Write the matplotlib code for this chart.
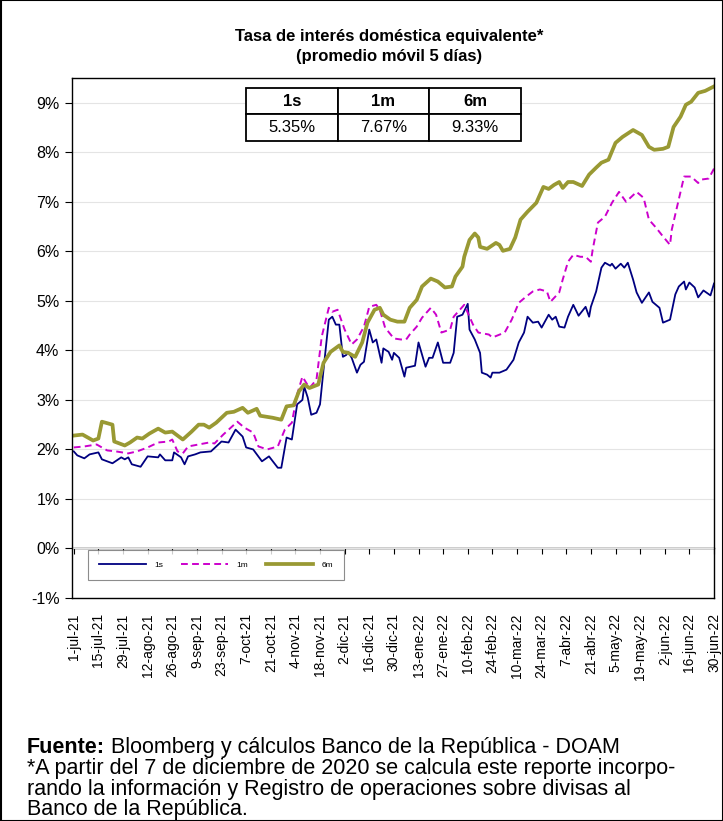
import matplotlib
matplotlib.use("Agg")
import matplotlib.pyplot as plt
import matplotlib.dates as mdates
import pandas as pd
from matplotlib.patches import Rectangle

plt.rcParams['font.family'] = ['Liberation Sans', 'DejaVu Sans']

# ---------------- data ----------------
dates_1s = ["2021-07-01","2021-07-03","2021-07-07","2021-07-10","2021-07-15","2021-07-17","2021-07-23",
            "2021-07-28","2021-07-30","2021-08-01","2021-08-03","2021-08-06","2021-08-08","2021-08-12",
            "2021-08-18","2021-08-19","2021-08-22","2021-08-26","2021-08-27","2021-08-31","2021-09-02",
            "2021-09-04","2021-09-08","2021-09-11","2021-09-17","2021-09-23","2021-09-27","2021-10-01",
            "2021-10-05","2021-10-07","2021-10-11","2021-10-16","2021-10-20","2021-10-25","2021-10-27",
            "2021-10-30","2021-11-02","2021-11-05","2021-11-08","2021-11-09","2021-11-11","2021-11-13",
            "2021-11-16","2021-11-18","2021-11-20","2021-11-23","2021-11-25","2021-11-27","2021-11-29",
            "2021-12-01","2021-12-03","2021-12-04","2021-12-06","2021-12-09","2021-12-11","2021-12-13",
            "2021-12-16","2021-12-18","2021-12-20","2021-12-23","2021-12-24","2021-12-27","2021-12-29",
            "2021-12-30","2022-01-02","2022-01-05","2022-01-06","2022-01-11","2022-01-13","2022-01-17",
            "2022-01-19","2022-01-21","2022-01-24","2022-01-27","2022-01-31","2022-02-02","2022-02-04",
            "2022-02-07","2022-02-10","2022-02-11","2022-02-14","2022-02-17","2022-02-18","2022-02-21",
            "2022-02-23","2022-02-24","2022-02-28","2022-03-04","2022-03-08","2022-03-11","2022-03-14",
            "2022-03-16","2022-03-19","2022-03-22","2022-03-24","2022-03-28","2022-03-30","2022-04-01",
            "2022-04-03","2022-04-06","2022-04-08","2022-04-11","2022-04-14","2022-04-18","2022-04-20",
            "2022-04-21","2022-04-24","2022-04-27","2022-04-29","2022-05-02","2022-05-03","2022-05-05",
            "2022-05-08","2022-05-10","2022-05-12","2022-05-15","2022-05-17","2022-05-20","2022-05-24",
            "2022-05-26","2022-05-30","2022-06-01","2022-06-05","2022-06-08","2022-06-10","2022-06-13",
            "2022-06-14","2022-06-16","2022-06-19","2022-06-21","2022-06-24","2022-06-28","2022-06-30"]
vals_1s = [1.96,1.88,1.82,1.90,1.94,1.80,1.72,
           1.84,1.80,1.84,1.70,1.67,1.65,1.86,
           1.84,1.90,1.78,1.78,1.94,1.84,1.70,
           1.86,1.90,1.94,1.96,2.16,2.14,2.40,
           2.26,2.04,2.00,1.76,1.86,1.63,1.63,
           2.24,2.20,2.91,3.00,3.27,3.05,2.70,
           2.74,2.91,3.61,4.62,4.68,4.52,4.52,
           3.87,3.91,3.97,3.85,3.55,3.71,3.77,
           4.42,4.16,4.22,3.75,4.04,3.97,3.81,
           3.95,3.85,3.47,3.65,3.69,4.16,3.67,
           3.85,3.85,4.16,3.75,3.75,3.95,4.68,
           4.72,4.94,4.42,4.22,3.95,3.55,3.51,
           3.45,3.55,3.55,3.61,3.81,4.16,4.36,
           4.68,4.56,4.58,4.46,4.72,4.62,4.68,
           4.48,4.46,4.68,4.92,4.70,4.88,4.68,
           4.88,5.19,5.67,5.77,5.71,5.75,5.65,
           5.75,5.67,5.77,5.43,5.17,4.96,5.17,
           4.98,4.86,4.56,4.62,5.13,5.29,5.39,
           5.23,5.37,5.27,5.07,5.21,5.11,5.35]

dates_1m = ["2021-07-01","2021-07-07","2021-07-14","2021-07-20","2021-07-25","2021-08-01","2021-08-06",
            "2021-08-12","2021-08-18","2021-08-24","2021-08-26","2021-08-29","2021-09-01","2021-09-04",
            "2021-09-10","2021-09-16","2021-09-19","2021-09-24","2021-10-02","2021-10-06","2021-10-11",
            "2021-10-14","2021-10-19","2021-10-25","2021-10-29","2021-11-02","2021-11-05","2021-11-08",
            "2021-11-12","2021-11-16","2021-11-19","2021-11-23","2021-11-25","2021-11-28","2021-12-02",
            "2021-12-06","2021-12-09","2021-12-13","2021-12-16","2021-12-20","2021-12-22","2021-12-25",
            "2021-12-30","2022-01-03","2022-01-06","2022-01-08","2022-01-12","2022-01-15","2022-01-20",
            "2022-01-23","2022-01-26","2022-01-31","2022-02-02","2022-02-08","2022-02-13","2022-02-16",
            "2022-02-22","2022-02-24","2022-03-03","2022-03-07","2022-03-11","2022-03-15","2022-03-19",
            "2022-03-23","2022-03-27","2022-03-29","2022-04-03","2022-04-05","2022-04-08","2022-04-11",
            "2022-04-15","2022-04-18","2022-04-21","2022-04-22","2022-04-25","2022-04-29","2022-05-03",
            "2022-05-07","2022-05-11","2022-05-17","2022-05-21","2022-05-24","2022-05-28","2022-06-01",
            "2022-06-05","2022-06-06","2022-06-09","2022-06-13","2022-06-17","2022-06-21","2022-06-23",
            "2022-06-27","2022-06-30"]
vals_1m = [2.04,2.06,2.10,1.98,1.96,1.92,1.96,
           2.04,2.14,2.16,2.20,1.96,1.92,2.06,
           2.10,2.14,2.12,2.30,2.56,2.44,2.34,
           2.06,2.00,2.06,2.40,2.54,3.11,3.47,
           3.24,3.41,4.28,4.86,4.78,4.82,4.42,
           4.12,4.22,4.48,4.88,4.92,4.82,4.46,
           4.24,4.22,4.22,4.32,4.48,4.66,4.86,
           4.72,4.36,4.42,4.68,4.92,4.52,4.36,
           4.32,4.26,4.36,4.62,4.96,5.08,5.19,
           5.23,5.19,4.98,5.17,5.43,5.79,5.93,
           5.89,5.89,5.79,6.03,6.58,6.70,6.98,
           7.20,7.00,7.20,7.08,6.64,6.48,6.30,
           6.13,6.44,6.90,7.51,7.51,7.38,7.45,
           7.47,7.67]

dates_6m = ["2021-07-01","2021-07-06","2021-07-12","2021-07-15","2021-07-17","2021-07-23","2021-07-24",
            "2021-07-30","2021-08-02","2021-08-06","2021-08-09","2021-08-13","2021-08-18","2021-08-22",
            "2021-08-26","2021-09-01","2021-09-06","2021-09-10","2021-09-13","2021-09-16","2021-09-20",
            "2021-09-26","2021-09-30","2021-10-05","2021-10-08","2021-10-13","2021-10-15","2021-10-22",
            "2021-10-27","2021-10-30","2021-11-03","2021-11-06","2021-11-09","2021-11-12","2021-11-17",
            "2021-11-20","2021-11-24","2021-11-29","2021-12-01","2021-12-04","2021-12-08","2021-12-12",
            "2021-12-15","2021-12-19","2021-12-22","2021-12-24","2021-12-28","2022-01-01","2022-01-05",
            "2022-01-08","2022-01-12","2022-01-15","2022-01-20","2022-01-24","2022-01-28","2022-02-01",
            "2022-02-03","2022-02-07","2022-02-08","2022-02-11","2022-02-14","2022-02-16","2022-02-17",
            "2022-02-21","2022-02-26","2022-02-28","2022-03-02","2022-03-06","2022-03-09","2022-03-12",
            "2022-03-16","2022-03-21","2022-03-25","2022-03-28","2022-03-31","2022-04-03","2022-04-05",
            "2022-04-08","2022-04-11","2022-04-16","2022-04-20","2022-04-24","2022-04-27","2022-05-01",
            "2022-05-05","2022-05-09","2022-05-15","2022-05-20","2022-05-24","2022-05-27","2022-06-01",
            "2022-06-04","2022-06-07","2022-06-11","2022-06-14","2022-06-17","2022-06-21","2022-06-25",
            "2022-06-30"]
vals_6m = [2.28,2.30,2.18,2.22,2.56,2.50,2.16,
           2.08,2.14,2.24,2.22,2.32,2.42,2.34,
           2.36,2.20,2.36,2.50,2.50,2.44,2.54,
           2.74,2.76,2.84,2.74,2.82,2.68,2.64,
           2.60,2.87,2.89,3.17,3.31,3.24,3.31,
           3.75,3.97,4.10,3.97,3.95,3.87,4.16,
           4.56,4.82,4.86,4.72,4.62,4.58,4.58,
           4.86,5.02,5.29,5.45,5.39,5.27,5.29,
           5.49,5.69,5.89,6.23,6.36,6.28,6.09,
           6.05,6.17,6.13,6.01,6.05,6.28,6.64,
           6.80,6.98,7.30,7.26,7.34,7.40,7.28,
           7.40,7.40,7.32,7.55,7.69,7.79,7.85,
           8.19,8.31,8.45,8.35,8.11,8.05,8.07,
           8.11,8.51,8.72,8.96,9.02,9.20,9.24,
           9.33]

series_names = ["1s", "1m", "6m"]
tick_labels = ["1-jul-21","15-jul-21","29-jul-21","12-ago-21","26-ago-21","9-sep-21","23-sep-21",
               "7-oct-21","21-oct-21","4-nov-21","18-nov-21","2-dic-21","16-dic-21","30-dic-21",
               "13-ene-22","27-ene-22","10-feb-22","24-feb-22","10-mar-22","24-mar-22","7-abr-22",
               "21-abr-22","5-may-22","19-may-22","2-jun-22","16-jun-22","30-jun-22"]
y_ticks = [-1, 0, 1, 2, 3, 4, 5, 6, 7, 8, 9]

# ---------------- figure ----------------
W, H = 723, 821
fig = plt.figure(figsize=(W / 100, H / 100), dpi=100)

ax = fig.add_axes([72 / W, 1 - 598 / H, (714 - 72) / W, (598 - 78) / H])

c1s, c1m, c6m = "#000080", "#CC00CC", "#999933"
l1, = ax.plot(pd.to_datetime(dates_1s), vals_1s, color=c1s, lw=1.3, label=series_names[0])
l2, = ax.plot(pd.to_datetime(dates_1m), vals_1m, color=c1m, lw=1.4, ls=(0, (3.5, 2.2)), label=series_names[1])
l3, = ax.plot(pd.to_datetime(dates_6m), vals_6m, color=c6m, lw=2.7, label=series_names[2])

start = pd.Timestamp("2021-07-01")
end = pd.Timestamp("2022-06-30")
ax.set_xlim(start - pd.Timedelta(days=1), end)
ax.set_ylim(-1, 9.5)

ax.set_yticks(y_ticks)
ax.set_yticklabels([f"{v}%" for v in y_ticks], fontsize=11.5)
ax.tick_params(axis='y', direction='out', length=5, width=0.8, pad=4)
ax.yaxis.grid(True, color="#e4e4e4", lw=0.8)
ax.set_axisbelow(True)

tick_dates = pd.date_range(start, end, freq="14D")
ax.set_xticks(tick_dates)
ax.set_xticklabels(tick_labels, rotation=90, fontsize=10)
ax.tick_params(axis='x', length=0, pad=11)

for s in ax.spines.values():
    s.set_linewidth(1.0)
    s.set_color("black")

# zero axis line with tick marks
sec = ax.secondary_xaxis(1 / 10.5)
sec.set_xticks(mdates.date2num(tick_dates))
sec.tick_params(axis='x', direction='out', length=4, width=0.8, labelbottom=False)
sec.spines['bottom'].set_linewidth(1.0)

# legend
leg = ax.legend(handles=[l1, l2, l3], loc="upper left", bbox_to_anchor=(0.025, 0.092), ncol=3,
                fontsize=6, frameon=True, fancybox=False, edgecolor="#707070", borderaxespad=0,
                handlelength=5.6, columnspacing=2.2, borderpad=1.3, handletextpad=1.0)
leg.get_frame().set_linewidth(0.8)

# table with last values
table_values = [f"{v[-1]:.2f}%" for v in (vals_1s, vals_1m, vals_6m)]
tbl = ax.table(cellText=[table_values], colLabels=series_names, cellLoc="center",
               bbox=[(246 - 72) / 642, (598 - 141) / 520, (521 - 246) / 642, 53 / 520])
tbl.auto_set_font_size(False)
tbl.set_fontsize(12)
for (r, c), cell in tbl.get_celld().items():
    cell.set_linewidth(1.3)
    cell.set_edgecolor("black")
    cell.set_facecolor("white")
    if r == 0:
        cell.get_text().set_fontweight("bold")
tbl.set_zorder(5)

# titles
fig.text(389 / W, 1 - 37 / H, "Tasa de interés doméstica equivalente*", ha="center", va="center",
         fontsize=12, fontweight="bold")
fig.text(389 / W, 1 - 57 / H, "(promedio móvil 5 días)", ha="center", va="center",
         fontsize=12, fontweight="bold")

# footer
fs = 15.5
t1 = fig.text(27 / W, 1 - 753 / H, "Fuente:", ha="left", va="baseline", fontsize=fs, fontweight="bold")
ax.annotate(" Bloomberg y cálculos Banco de la República - DOAM", xy=(1, 0), xycoords=t1,
            ha="left", va="bottom", fontsize=fs, annotation_clip=False)
fig.text(27 / W, 1 - 774 / H, "*A partir del 7 de diciembre de 2020 se calcula este reporte incorpo-",
         ha="left", va="baseline", fontsize=fs)
fig.text(27 / W, 1 - 795 / H, "rando la información y Registro de operaciones sobre divisas al",
         ha="left", va="baseline", fontsize=fs)
fig.text(27 / W, 1 - 815 / H, "Banco de la República.",
         ha="left", va="baseline", fontsize=fs)

# outer border
fig.patches.append(Rectangle((0.5 / W, 0.5 / H), 1 - 1 / W, 1 - 1 / H, transform=fig.transFigure,
                             fill=False, edgecolor="black", lw=1.5))

fig.savefig("out.png", dpi=100)
